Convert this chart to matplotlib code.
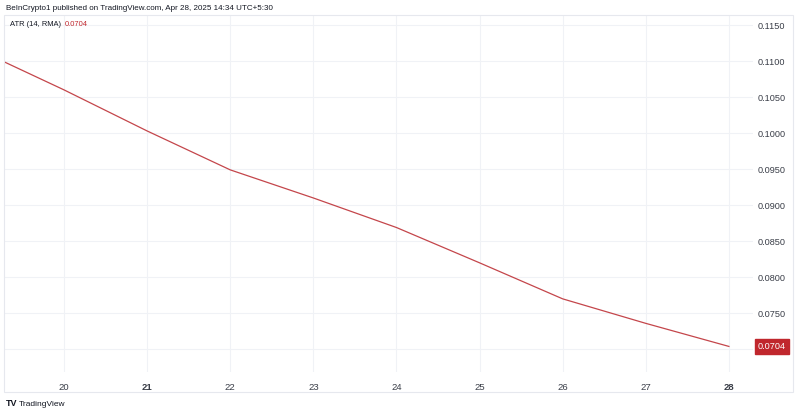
import numpy as np
import matplotlib
matplotlib.use("Agg")
from matplotlib import pyplot as plt
from matplotlib.patches import Rectangle

# ATR (14, RMA), daily values (Apr 19 .. Apr 28)
days = [19, 20, 21, 22, 23, 24, 25, 26, 27, 28]
atr = [0.1114, 0.1060, 0.1003, 0.0949, 0.0910, 0.0869, 0.0820, 0.0770, 0.0736, 0.0704]
last_value = 0.0704

y_ticks = [0.0700, 0.0750, 0.0800, 0.0850, 0.0900, 0.0950, 0.1000, 0.1050, 0.1100, 0.1150]
x_ticks = [20, 21, 22, 23, 24, 25, 26, 27, 28]
bold_days = [21, 28]

line_col = "#c4464b"
tag_col = "#c0272d"
grid_col = "#f0f2f6"
text_col = "#3a3e48"

plt.rcParams["font.family"] = ["Liberation Sans", "DejaVu Sans"]

fig = plt.figure(figsize=(8, 4.13), dpi=100)
W, H = 800, 413

# plot area in pixels: x 4..753, y 15..372
ax = fig.add_axes([4 / W, (H - 372) / H, (753 - 4) / W, (372 - 15) / H])
ax.plot(days, atr, color=line_col, lw=0.9)

ax.set_xlim(19.278, 28.29)
ax.set_ylim(0.06685, 0.11639)

ax.set_xticks(x_ticks)
ax.set_xticklabels([str(d) for d in x_ticks])
for lab, d in zip(ax.get_xticklabels(), x_ticks):
    lab.set_fontweight("bold" if d in bold_days else "normal")
    lab.set_color("#131722" if d in bold_days else text_col)

ax.yaxis.tick_right()
ax.set_yticks(y_ticks)
ax.set_yticklabels(["" if v == 0.0700 else f"{v:.4f}" for v in y_ticks])

ax.tick_params(axis="x", length=0, pad=8, labelsize=6.8, colors=text_col)
ax.tick_params(axis="y", length=0, pad=3, labelsize=6.6, colors=text_col)
ax.grid(True, color=grid_col, lw=0.8)
ax.set_axisbelow(True)
for s in ax.spines.values():
    s.set_visible(False)

# last value tag on the price scale
ax.annotate(f"{last_value:.4f}", xy=(1, last_value), xycoords=("axes fraction", "data"),
            xytext=(3.5, 0), textcoords="offset points", ha="left", va="center",
            fontsize=6.6, color="white",
            bbox=dict(boxstyle="square,pad=0.3", fc=tag_col, ec=tag_col))

# outer frame of chart pane
fig.patches.append(Rectangle((4 / W, (H - 392) / H), (793 - 4) / W, (392 - 15) / H,
                             transform=fig.transFigure, fill=False, ec="#e6e8ee", lw=0.8))

# header texts
fig.text(6 / W, 1 - 8 / H, "BeInCrypto1 published on TradingView.com, Apr 28, 2025 14:34 UTC+5:30",
         fontsize=5.8, color="#131722", va="center", ha="left")
t1 = fig.text(10 / W, 1 - 24 / H, "ATR (14, RMA)", fontsize=5.4, color="#131722",
              va="center", ha="left")
plt.annotate(f"{last_value:.4f}", xy=(1, 0.5), xycoords=t1, xytext=(3, 0),
             textcoords="offset points", fontsize=5.4, color=tag_col,
             va="center", ha="left", annotation_clip=False)

# footer logo
fig.text(6 / W, 1 - 404 / H, "TV", fontsize=6.5, fontweight="bold", color="#131722",
         va="center", ha="left")
fig.text(19 / W, 1 - 404 / H, "TradingView", fontsize=6.0, color="#131722",
         va="center", ha="left")

fig.savefig("out.png", dpi=100, facecolor="white")
